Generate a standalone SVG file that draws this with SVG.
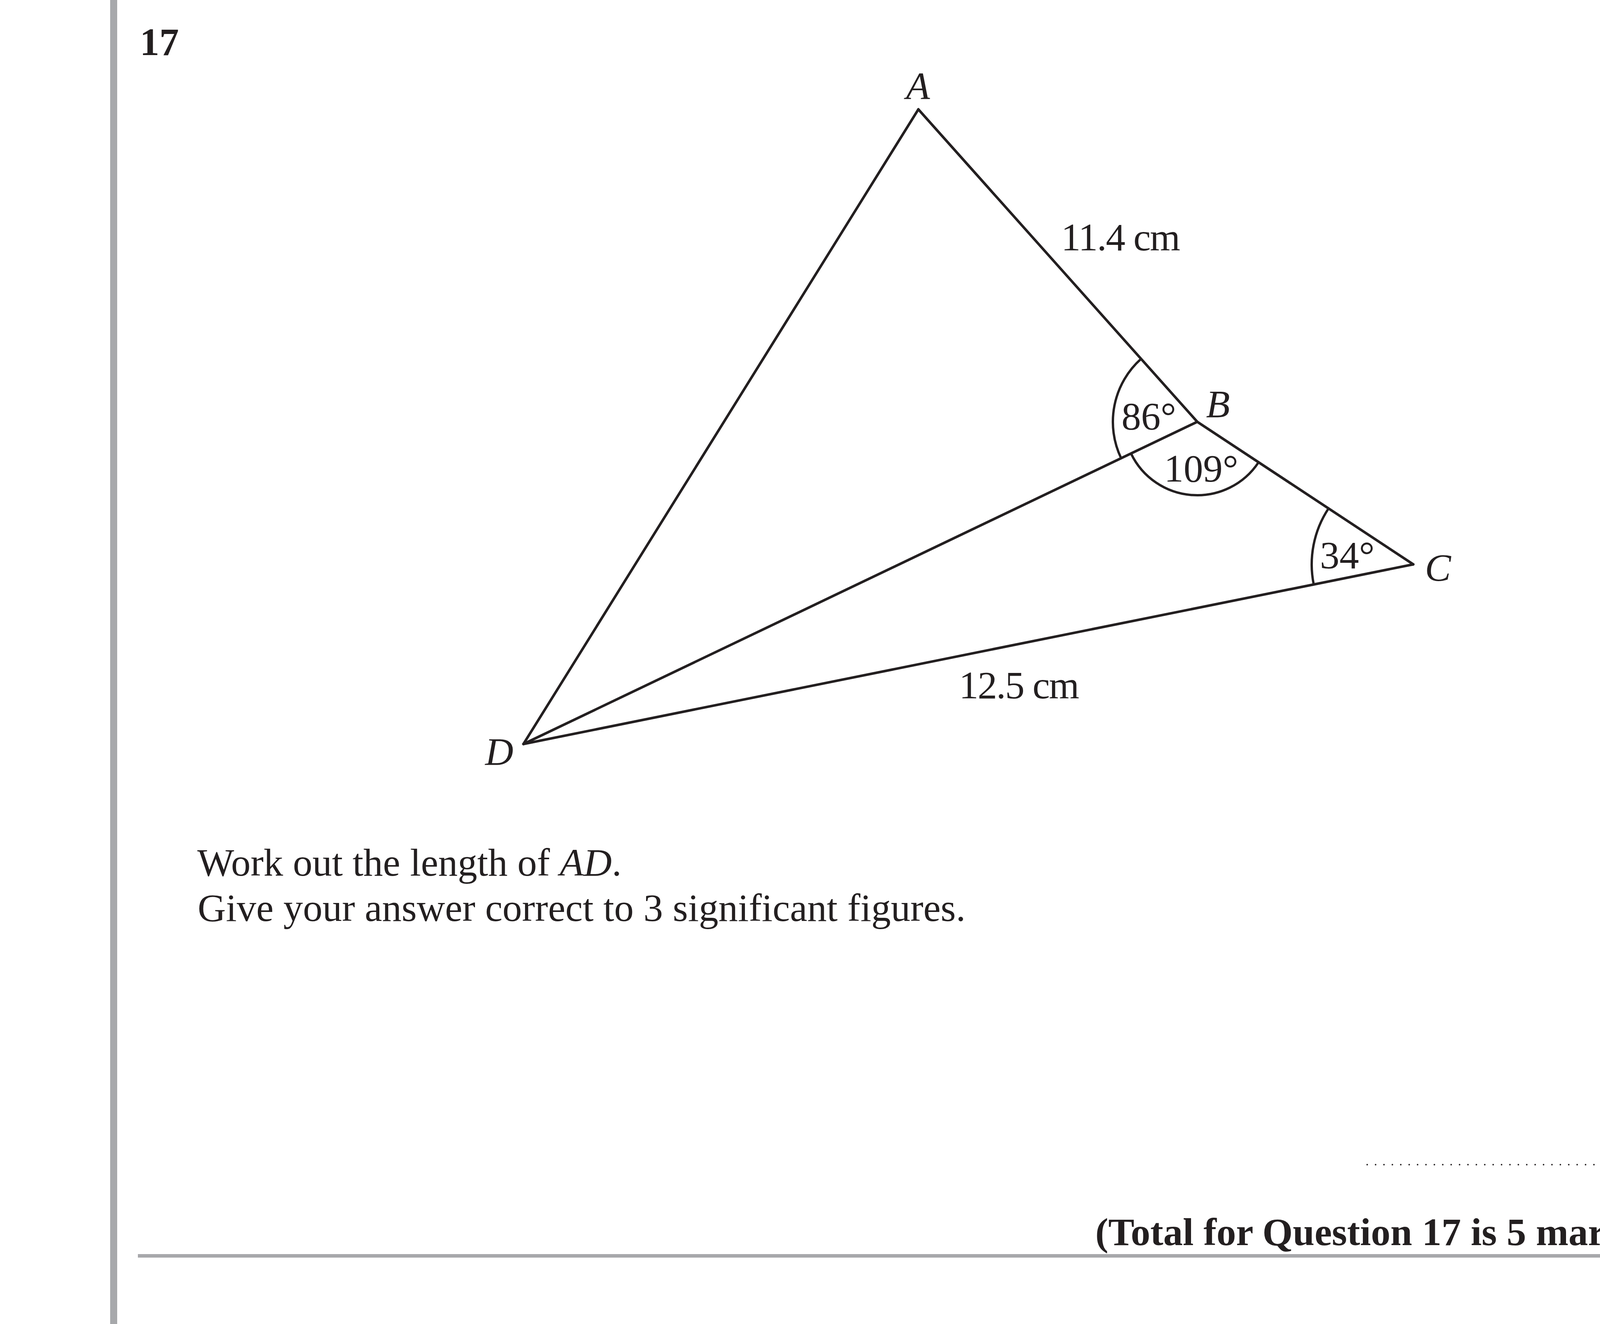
<svg xmlns="http://www.w3.org/2000/svg" width="4959" height="3390" viewBox="0 0 4959 3390">
<style>
.t{font-family:"Liberation Serif","Times New Roman",serif;font-size:100px;fill:#231f20}
.i{font-style:italic}
.b{font-weight:bold}
.m{text-anchor:middle}
.edge{stroke:#231f20;stroke-width:6.5;fill:none;stroke-linejoin:round;stroke-linecap:round}
.arc{stroke:#231f20;stroke-width:6;fill:none}
.frame{fill:#a7a8ab}
</style>
<rect x="0" y="0" width="4959" height="3390" fill="#ffffff"/>
<rect class="frame" x="282" y="0" width="18" height="3390"/>
<rect class="frame" x="4660" y="0" width="17" height="3390"/>
<rect class="frame" x="353" y="3211" width="4258" height="9"/>
<text class="t b" x="358" y="141">17</text>
<g id="connectors">
<polyline class="edge" points="2351,280 3065,1080 3618,1445"/>
<line class="edge" x1="1340" y1="1905" x2="2351" y2="280"/>
<line class="edge" x1="1340" y1="1905" x2="3065" y2="1080"/>
<line class="edge" x1="1340" y1="1905" x2="3618" y2="1445"/>
<text class="t m" x="2869" y="641" textLength="305" lengthAdjust="spacing">11.4 cm</text>
<text class="t m" x="2609" y="1788" textLength="308" lengthAdjust="spacing">12.5 cm</text>
</g>
<g id="angles">
<path class="arc" d="M2921.2,918.8 A216,216 0 0 0 2870.1,1173.2"/>
<text class="t m" x="2941" y="1099">86°</text>
<path class="arc" d="M2895.4,1161.1 A188,188 0 0 0 3221.9,1183.6"/>
<text class="t m" x="3075" y="1233">109°</text>
<path class="arc" d="M3401,1301.8 A260,260 0 0 0 3363.1,1496.5"/>
<text class="t m" x="3449" y="1455">34°</text>
</g>
<g id="node-A"><text class="t i m" x="2350" y="254">A</text></g>
<g id="node-B"><text class="t i m" x="3118" y="1068">B</text></g>
<g id="node-C"><text class="t i m" x="3681" y="1487">C</text></g>
<g id="node-D"><text class="t i m" x="1278" y="1958">D</text></g>
<g id="question">
<text class="t" x="505" y="2242">Work out the length of <tspan class="i">AD</tspan>.</text>
<text class="t" x="506" y="2358">Give your answer correct to 3 significant figures.</text>
</g>
<g id="answer">
<line x1="3500" y1="2982" x2="4446" y2="2982" stroke="#231f20" stroke-width="4" stroke-linecap="round" stroke-dasharray="0 21.5"/>
<text class="t" x="4485" y="2983">cm</text>
<text class="t b" x="2804" y="3188">(Total for Question 17 is 5 marks)</text>
</g>
</svg>
